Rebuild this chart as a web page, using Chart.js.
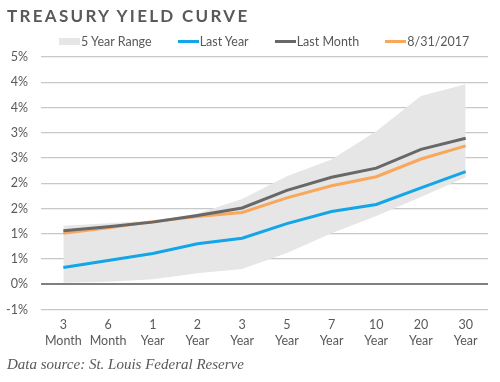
<!DOCTYPE html>
<html>
<head>
<meta charset="utf-8">
<script src="https://cdn.jsdelivr.net/npm/chart.js@4.4.1/dist/chart.umd.min.js"></script>
<style>
  html, body { margin: 0; padding: 0; background: #fff; }
  #wrap { position: relative; width: 500px; height: 382px; overflow: hidden; }
  #title { position: absolute; left: 7px; top: 5px; font-family: Lato, "Open Sans", sans-serif; font-weight: 700;
           font-size: 17px; letter-spacing: 2.3px; color: #595959; white-space: nowrap; }
  #source { position: absolute; left: 7px; top: 356px; font-family: "Liberation Serif", serif; font-style: italic;
            font-size: 15px; color: #595959; white-space: nowrap; }
  #legend { position: absolute; left: 59px; top: 34px; display: flex; gap: 26px; align-items: center;
            font-family: Lato, sans-serif; font-size: 12.5px; color: #595959; white-space: nowrap; }
  #legend .item { display: flex; align-items: center; gap: 1px; }
  #legend .mk { display: inline-block; width: 21px; }
  canvas { position: absolute; left: 0; top: 0; }
</style>
</head>
<body>
<div id="wrap">
  <canvas id="c" width="500" height="382"></canvas>
  <div id="title">TREASURY YIELD CURVE</div>
  <div id="legend"></div>
  <div id="source">Data source: St. Louis Federal Reserve</div>
</div>
<script>
const categories = [["3","Month"],["6","Month"],["1","Year"],["2","Year"],["3","Year"],["5","Year"],["7","Year"],["10","Year"],["20","Year"],["30","Year"]];
const rangeLow  = [0.03, 0.05, 0.10, 0.22, 0.30, 0.62, 1.01, 1.35, 1.73, 2.12];
const rangeHigh = [1.16, 1.21, 1.26, 1.40, 1.69, 2.14, 2.47, 3.03, 3.73, 3.96];
const lastYear  = [0.33, 0.47, 0.61, 0.80, 0.91, 1.20, 1.44, 1.58, 1.91, 2.23];
const lastMonth = [1.06, 1.14, 1.23, 1.36, 1.51, 1.86, 2.12, 2.30, 2.67, 2.89];
const current   = [1.01, 1.12, 1.24, 1.34, 1.42, 1.71, 1.95, 2.13, 2.48, 2.74];
const yTickLabels = ["-1%","0%","1%","1%","2%","2%","3%","3%","4%","4%","5%"];
const yMin = -0.5, yMax = 4.5, yStep = 0.5;

const FONT = "Lato";
const TXT = "#595959";
const BAND = "#e6e6e6";

const chart = new Chart(document.getElementById("c"), {
  type: "line",
  data: {
    labels: categories,
    datasets: [
      { label: "low", data: rangeLow, borderWidth: 0, pointRadius: 0, fill: false, borderColor: "rgba(0,0,0,0)", backgroundColor: BAND, order: 5 },
      { label: "5 Year Range", data: rangeHigh, borderWidth: 0, pointRadius: 0, fill: "-1", borderColor: "rgba(0,0,0,0)", backgroundColor: BAND, order: 4 },
      { label: "Last Year", data: lastYear, borderColor: "#12a6e8", backgroundColor: "#12a6e8", borderWidth: 3, pointRadius: 0, fill: false, order: 3 },
      { label: "Last Month", data: lastMonth, borderColor: "#686868", backgroundColor: "#686868", borderWidth: 3, pointRadius: 0, fill: false, order: 1 },
      { label: "8/31/2017", data: current, borderColor: "#f9a75b", backgroundColor: "#f9a75b", borderWidth: 3, pointRadius: 0, fill: false, order: 2 }
    ]
  },
  options: {
    responsive: false,
    animation: false,
    events: [],
    layout: { padding: { top: 57, left: 0, right: 12, bottom: 37 } },
    plugins: {
      tooltip: { enabled: false },
      legend: { display: false }
    },
    scales: {
      x: {
        offset: true,
        grid: { display: false, drawTicks: false },
        border: { display: false },
        ticks: { color: TXT, font: { family: FONT, size: 12.5, lineHeight: 1.25 }, maxRotation: 0, autoSkip: false, padding: 8 },
        afterFit: (s) => { s.height = 35.5; }
      },
      y: {
        min: yMin, max: yMax,
        grid: {
          drawTicks: false,
          color: (ctx) => ctx.tick && ctx.tick.value === 0 ? "#808080" : "#c8c8c8",
          lineWidth: (ctx) => ctx.tick && ctx.tick.value === 0 ? 2 : 1.2
        },
        border: { display: false },
        afterBuildTicks: (s) => {
          s.ticks = yTickLabels.map((l, i) => ({ value: yMin + i * yStep }));
        },
        ticks: {
          color: TXT, font: { family: FONT, size: 12.5 }, padding: 13,
          callback: (v, i) => yTickLabels[i]
        },
        afterFit: (s) => { s.width = 41; }
      }
    }
  }
});

// HTML legend built from the chart's datasets
const legend = document.getElementById("legend");
chart.data.datasets.filter(ds => ds.label !== "low").forEach(ds => {
  const item = document.createElement("span");
  item.className = "item";
  const mk = document.createElement("span");
  mk.className = "mk";
  const isBand = ds.label === "5 Year Range";
  mk.style.height = isBand ? "7px" : "3px";
  mk.style.background = ds.backgroundColor;
  const t = document.createElement("span");
  t.textContent = ds.label;
  item.appendChild(mk);
  item.appendChild(t);
  legend.appendChild(item);
});
</script>
</body>
</html>
